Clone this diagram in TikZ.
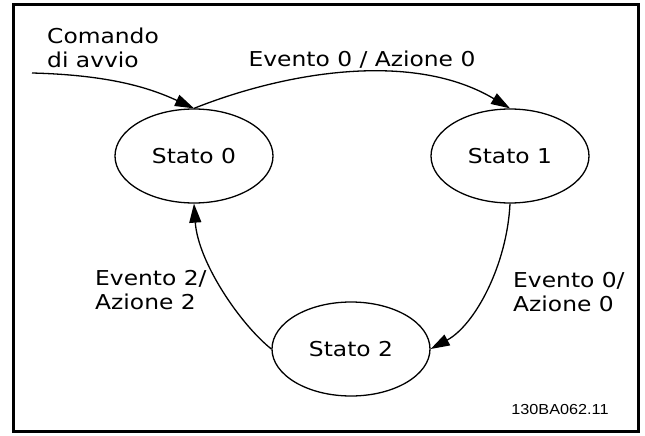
\documentclass[tikz,border=0pt]{standalone}
\usepackage{fontspec}
\setmainfont{DejaVu Sans}[FakeStretch=1.14]
\newfontfamily\codefont{Liberation Sans}[FakeStretch=1.12]
\usetikzlibrary{shapes.geometric,arrows.meta}
\begin{document}
\begin{tikzpicture}[x=1pt,y=-1pt,
  statebox/.style={ellipse,draw,line width=1.3pt,minimum width=158pt,minimum height=94pt,inner sep=0pt,font=\fontsize{20.5}{25}\selectfont},
  lbl/.style={inner sep=0pt,align=left,font=\fontsize{20.5}{24.5}\selectfont},
  conn/.style={line width=1.3pt,-{Triangle[length=19pt,width=12pt]}}]
\useasboundingbox (0,0) rectangle (645,436);
\draw[line width=3pt] (13,5) rectangle (638,431);
\node[statebox] (s0) at (194,156) {Stato 0};
\node[statebox] (s1) at (510,156) {Stato 1};
\node[statebox] (s2) at (351,349) {Stato 2};
\coordinate (start) at (32,73);
\draw[conn] (start) .. controls (110,75) and (150,88) .. (s0.north);
\draw[conn] (s0.north) .. controls (288,71) and (414,51) .. (s1.north);
\draw[conn] (s1.south) .. controls (507,265) and (475,325) .. (s2.east);
\draw[conn] (s2.west) .. controls (240,324) and (198,262) .. (s0.south);
\node[lbl,anchor=west] (cmd) at (47,48) {Comando\\di avvio};
\node[lbl] (e01) at (362,60) {Evento 0 / Azione 0};
\node[lbl,anchor=west] (e2) at (95,290) {Evento 2/\\Azione 2};
\node[lbl,anchor=west] (e0) at (513,292) {Evento 0/\\Azione 0};
\node[inner sep=0pt,font=\codefont\fontsize{14.5}{16}\selectfont] (code) at (560,410) {130BA062.11};
\end{tikzpicture}
\end{document}
